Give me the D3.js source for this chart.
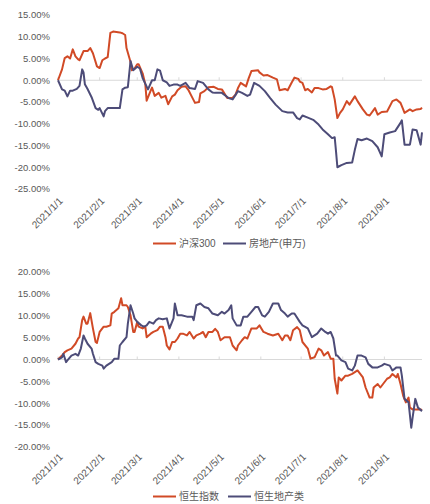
<!DOCTYPE html>
<html><head><meta charset="utf-8">
<script src="https://cdn.jsdelivr.net/npm/d3@7/dist/d3.min.js"></script>
<style>
html,body{margin:0;padding:0;background:#fff;}
svg text{font-family:"Liberation Sans","Noto Sans CJK SC",sans-serif;fill:#595959;}
</style></head>
<body><svg id="c" width="430" height="504"></svg>
<script>
// Data: [days since 2021-01-01, cumulative return %]
const hs300 = [[0,0],[3,2.5],[5,5.1],[7,5.5],[9,5.0],[11,7.1],[13,5.5],[15,4.8],[16,4.6],[19,6.7],[22,6.7],[24,7.4],[26,6.2],[29,3.2],[31,2.8],[33,4.6],[35,5.0],[37,5.3],[39,10.9],[41,11.2],[46,11.0],[48,10.8],[50,10.4],[51,7.4],[54,4.2],[55,2.3],[57,2.7],[59,3.7],[60,3.7],[63,1.6],[65,-0.9],[66,-4.7],[69,-2.4],[70,-1.7],[72,-3.6],[75,-2.9],[77,-4.0],[80,-3.6],[82,-5.5],[85,-3.7],[87,-3.3],[89,-2.3],[92,-1.5],[95,-1.4],[97,-2.2],[100,-4.0],[102,-5.2],[105,-5.0],[106,-3.0],[109,-2.5],[112,-1.6],[116,-1.5],[119,-2.0],[122,-2.1],[126,-4.1],[130,-4.0],[132,-3.4],[134,-1.8],[136,-0.6],[140,-1.4],[142,0.5],[144,2.1],[149,2.3],[150,1.8],[153,1.1],[156,1.2],[160,0.6],[163,0.2],[165,-2.3],[169,-2.0],[171,-2.3],[174,-0.5],[176,0.6],[179,0.3],[180,-0.3],[182,-0.6],[184,-2.3],[186,-2.0],[189,-2.8],[191,-1.8],[194,-1.8],[197,-2.1],[200,-2.0],[203,-1.4],[204,-1.6],[206,-4.4],[208,-8.7],[210,-7.5],[212,-6.7],[215,-4.8],[217,-5.6],[221,-3.7],[223,-4.8],[227,-6.7],[230,-7.9],[232,-8.1],[236,-6.4],[238,-7.9],[241,-7.3],[245,-7.2],[249,-4.8],[252,-4.4],[255,-5.2],[257,-6.7],[258,-7.5],[262,-6.7],[264,-7.1],[267,-6.7],[270,-6.6],[271,-6.3]];
const swProperty = [[0,0],[3,-2.1],[5,-2.4],[7,-3.7],[9,-2.4],[11,-2.4],[14,-2.0],[16,-1.3],[18,2.5],[19,1.8],[20,-0.9],[22,-2.0],[25,-3.9],[28,-6.4],[30,-6.8],[31,-6.4],[34,-8.3],[35,-7.1],[37,-6.4],[41,-6.4],[46,-6.4],[48,-2.1],[50,-1.7],[52,-1.6],[54,4.4],[56,2.3],[59,3.1],[61,2.7],[63,0.5],[67,-2.1],[70,0],[72,0],[74,2.5],[76,2.2],[78,0],[81,-0.5],[83,-1.3],[86,-1.0],[89,-1.0],[91,-1.3],[95,-0.6],[96,-1.0],[98,-1.8],[102,-2.0],[104,-0.2],[108,-0.6],[112,-2.1],[115,-2.8],[117,-2.9],[122,-2.9],[127,-4.1],[130,-4.4],[134,-2.5],[137,-2.9],[141,-3.6],[143,-3.3],[146,-0.6],[150,-1.3],[154,-2.5],[158,-4.1],[162,-5.6],[167,-7.1],[171,-7.4],[175,-7.4],[178,-8.7],[180,-9.0],[182,-8.1],[186,-8.6],[190,-9.1],[194,-10.2],[197,-11.3],[201,-12.4],[204,-13.3],[206,-13.1],[207,-16.4],[208,-20.0],[211,-19.5],[215,-19.0],[219,-18.9],[221,-16.0],[223,-13.5],[226,-13.8],[230,-13.4],[234,-14.0],[238,-15.4],[241,-17.5],[243,-12.4],[247,-12.0],[251,-11.7],[255,-9.8],[256,-9.2],[258,-14.8],[262,-14.8],[264,-11.3],[267,-11.5],[270,-14.8],[271,-12.0]];
const hsi = [[0,0],[3,0.9],[5,1.7],[7,2.1],[10,2.5],[13,3.6],[15,4.8],[16,5.1],[18,9.0],[19,9.8],[21,8.2],[22,8.2],[24,10.6],[26,7.1],[28,4.0],[29,3.8],[31,6.3],[34,7.5],[36,7.5],[39,7.8],[40,10.5],[42,10.9],[45,11.7],[47,14.0],[48,12.4],[51,12.4],[52,12.0],[54,10.1],[56,6.3],[57,6.3],[59,8.6],[60,7.5],[63,7.1],[65,7.5],[66,5.1],[69,5.9],[71,6.3],[74,6.7],[76,7.5],[78,7.5],[80,5.1],[81,3.2],[83,2.3],[85,4.0],[87,4.0],[89,4.8],[91,5.9],[93,5.9],[96,5.5],[98,6.3],[101,4.8],[103,5.5],[106,5.9],[108,6.3],[110,5.1],[112,6.3],[115,6.3],[117,7.0],[119,6.3],[121,4.4],[124,5.1],[128,5.1],[130,3.2],[133,2.1],[134,3.2],[137,4.4],[139,5.1],[141,4.8],[144,7.1],[148,7.1],[150,7.8],[153,6.3],[156,5.9],[160,5.5],[164,5.9],[167,4.4],[169,5.5],[171,5.5],[173,4.4],[175,6.7],[178,7.4],[180,6.7],[182,4.0],[186,2.5],[188,0.2],[191,0.5],[194,2.5],[196,2.1],[198,0.9],[201,1.7],[203,0.2],[205,0.2],[206,-4.4],[208,-7.8],[209,-4.1],[211,-4.8],[214,-3.7],[216,-3.7],[219,-3.3],[223,-2.5],[225,-3.3],[227,-4.1],[229,-6.4],[232,-8.7],[234,-8.7],[235,-6.4],[238,-5.6],[240,-6.4],[242,-5.6],[245,-4.4],[247,-4.1],[249,-3.3],[252,-4.1],[253,-3.3],[255,-5.6],[257,-8.3],[259,-9.8],[261,-8.7],[262,-11.0],[264,-11.4],[267,-11.4],[270,-11.4],[271,-11.6]];
const hsProperty = [[0,0],[3,0.5],[4,1.3],[6,-0.6],[7,-0.2],[10,0.9],[13,1.3],[15,0.9],[17,2.5],[19,5.5],[20,4.8],[22,3.6],[25,2.5],[26,1.3],[28,-0.6],[30,-1.0],[33,-1.4],[34,-2.1],[36,-1.4],[38,-1.0],[40,-0.6],[42,0.2],[45,0.2],[46,3.2],[48,4.0],[51,5.1],[52,8.2],[54,12.4],[56,10.5],[57,9.4],[59,8.6],[62,7.8],[64,7.5],[66,7.8],[68,8.6],[71,8.2],[73,9.0],[75,9.4],[78,9.2],[81,9.4],[83,7.1],[86,9.4],[87,12.8],[89,10.1],[92,10.1],[96,9.8],[100,9.8],[101,9.0],[103,12.4],[106,12.8],[109,12.0],[112,11.7],[115,10.5],[119,10.1],[122,10.9],[124,10.5],[127,11.3],[129,12.4],[130,9.4],[133,7.8],[136,7.8],[138,9.8],[141,9.8],[144,10.9],[147,12.0],[149,12.0],[152,10.1],[154,9.8],[157,10.9],[160,12.8],[164,12.8],[166,11.3],[169,10.5],[171,9.8],[174,10.5],[176,10.5],[180,8.6],[182,7.8],[186,7.1],[189,5.1],[193,5.9],[196,7.1],[199,6.3],[201,5.9],[203,6.3],[205,4.8],[207,0.9],[208,0.9],[211,-0.2],[214,-0.6],[216,-2.1],[219,-2.5],[221,-1.4],[223,0.9],[226,0.9],[229,0.5],[231,-1.0],[234,-1.8],[238,-1.8],[241,-1.4],[243,-1.0],[247,-1.4],[249,-2.5],[252,-1.8],[255,-1.8],[256,-3.7],[258,-9.0],[261,-9.8],[263,-15.6],[264,-13.3],[266,-9.0],[268,-11.0],[271,-11.8]];

const xTickLabels = ["2021/1/1","2021/2/1","2021/3/1","2021/4/1","2021/5/1","2021/6/1","2021/7/1","2021/8/1","2021/9/1"];
const topYTicks = [15,10,5,0,-5,-10,-15,-20,-25];
const bottomYTicks = [20,15,10,5,0,-5,-10,-15,-20];
const topNames = ["沪深300","房地产(申万)"];
const bottomNames = ["恒生指数","恒生地产类"];
const colors = ["#d14a26","#4d4c78"];

const base = new Date(2021,0,1);
const toDate = d => d3.timeDay.offset(base, d);
const x = d3.scaleTime().domain([base, new Date(2021,8,29)]).range([58, 422]);
const svg = d3.select("#c");

function panel(cfg){
  const g = svg.append("g");
  const y = d3.scaleLinear().domain(cfg.domain).range(cfg.range);
  g.selectAll("text.yl").data(cfg.yTicks).join("text")
    .attr("class","yl").attr("x",50).attr("y",d=>y(d)).attr("dy","0.35em")
    .attr("text-anchor","end").style("font-size","9.5px")
    .text(d=>d.toFixed(2)+"%");
  g.append("line").attr("x1",x.range()[0]).attr("x2",x.range()[1])
    .attr("y1",y(0)).attr("y2",y(0)).attr("stroke","#d9d9d9").attr("stroke-width",1);
  const tickDates = xTickLabels.map(s=>{const p=s.split("/");return new Date(+p[0],+p[1]-1,+p[2]);});
  g.selectAll("line.tk").data(tickDates).join("line").attr("class","tk")
    .attr("x1",d=>x(d)).attr("x2",d=>x(d)).attr("y1",y(0)-3).attr("y2",y(0))
    .attr("stroke","#d9d9d9");
  g.selectAll("text.xl").data(tickDates).join("text").attr("class","xl")
    .attr("transform",(d)=>`translate(${x(d)+3},${cfg.labelY}) rotate(-45)`)
    .attr("text-anchor","end").attr("dy","0.35em").style("font-size","10px")
    .text((d,i)=>xTickLabels[i]);
  const line = d3.line().x(d=>x(toDate(d[0]))).y(d=>y(d[1]));
  cfg.series.forEach((s,i)=>{
    g.append("path").datum(s).attr("d",line).attr("fill","none")
      .attr("stroke",colors[i]).attr("stroke-width",2).attr("stroke-linejoin","round");
  });
  const lg = g.append("g");
  cfg.legend.forEach((l,i)=>{
    lg.append("line").attr("x1",l.x).attr("x2",l.x+23).attr("y1",cfg.legendY).attr("y2",cfg.legendY)
      .attr("stroke",colors[i]).attr("stroke-width",2);
    lg.append("text").attr("x",l.x+26).attr("y",cfg.legendY).attr("dy","0.35em")
      .style("font-size","10px").text(cfg.names[i]);
  });
}

panel({domain:[-25,15],range:[189,15],yTicks:topYTicks,labelY:199,series:[hs300,swProperty],
  names:topNames,legendY:243.5,legend:[{x:153},{x:223}]});
panel({domain:[-20,20],range:[447,272],yTicks:bottomYTicks,labelY:455,series:[hsi,hsProperty],
  names:bottomNames,legendY:496.5,legend:[{x:153},{x:228}]});
</script></body></html>
